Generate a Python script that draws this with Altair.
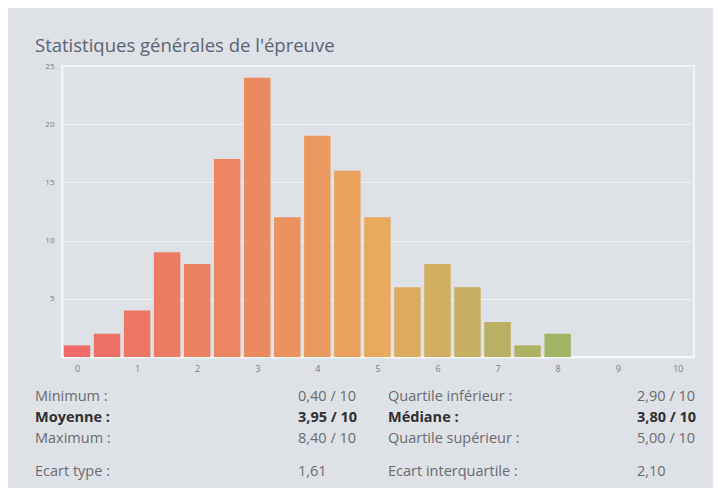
import altair as alt
import pandas as pd

# ---- data ----
centers = [0, 0.5, 1, 1.5, 2, 2.5, 3, 3.5, 4, 4.5, 5, 5.5, 6, 6.5, 7, 7.5, 8]
counts = [1, 2, 4, 9, 8, 17, 24, 12, 19, 16, 12, 6, 8, 6, 3, 1, 2]
x_ticks = [0, 1, 2, 3, 4, 5, 6, 7, 8, 9, 10]
y_ticks = [5, 10, 15, 20, 25]

title_text = "Statistiques générales de l'épreuve"
left_labels = ["Minimum :", "Moyenne :", "Maximum :", "Ecart type :"]
left_values = ["0,40 / 10", "3,95 / 10", "8,40 / 10", "1,61"]
right_labels = ["Quartile inférieur :", "Médiane :", "Quartile supérieur :", "Ecart interquartile :"]
right_values = ["2,90 / 10", "3,80 / 10", "5,00 / 10", "2,10"]
bold_row = 1

FONT = "Open Sans"
BG = "#dee1e5"

df = pd.DataFrame({"center": centers, "count": counts, "idx": list(range(len(centers)))})

bars = alt.Chart(df).transform_calculate(
    x0="datum.center - 0.22", x1="datum.center + 0.22"
).mark_bar(stroke=None).encode(
    x=alt.X("x0:Q", scale=alt.Scale(domain=[-0.25, 10.27], nice=False, zero=False),
            axis=alt.Axis(values=x_ticks, title=None, grid=False, ticks=False,
                          domainColor="#f4f5f7", domainWidth=2,
                          labelFont=FONT, labelFontSize=9, labelColor="#7a7d82",
                          labelPadding=7)),
    x2="x1:Q",
    y=alt.Y("count:Q", scale=alt.Scale(domain=[0, 25], nice=False),
            axis=alt.Axis(values=y_ticks, title=None, ticks=False,
                          gridColor="#eef0f3", gridWidth=1,
                          domainColor="#f4f5f7", domainWidth=2,
                          labelFont=FONT, labelFontSize=8, labelColor="#7a7d82",
                          labelPadding=8)),
    y2=alt.datum(0),
    color=alt.Color("idx:Q", legend=None,
                    scale=alt.Scale(domain=[0, 6, 10, 16],
                                    range=["#ee6b69", "#eb8a5f", "#e9a95c", "#a2b464"],
                                    interpolate="rgb")),
)

layers = [bars]

title = alt.Chart(pd.DataFrame({"t": [title_text]})).mark_text(
    align="left", baseline="alphabetic", font=FONT, fontSize=18.5, color="#5b6475"
).encode(text="t:N", x=alt.value(-27), y=alt.value(-14))
layers.append(title)

row_y = [335, 356, 377, 410]
col_x = [-27, 236, 326, 575]
cols = [left_labels, left_values, right_labels, right_values]
for ci, col in enumerate(cols):
    for ri, txt in enumerate(col):
        bold = ri == bold_row
        t = alt.Chart(pd.DataFrame({"t": [txt]})).mark_text(
            align="left", baseline="alphabetic", font=FONT, fontSize=14.5,
            fontWeight="bold" if bold else "normal",
            color="#2e2f31" if bold else "#6a6c70"
        ).encode(text="t:N", x=alt.value(col_x[ci]), y=alt.value(row_y[ri]))
        layers.append(t)

chart = alt.layer(*layers).properties(
    width=632, height=291,
    padding={"left": 54, "top": 58, "right": 19, "bottom": 131},
    autosize=alt.AutoSizeParams(type="none"),
    background=BG,
).configure_view(stroke="#f4f5f7", strokeWidth=2)

chart.save("out.html", embed_options={"renderer": "svg", "actions": False})
